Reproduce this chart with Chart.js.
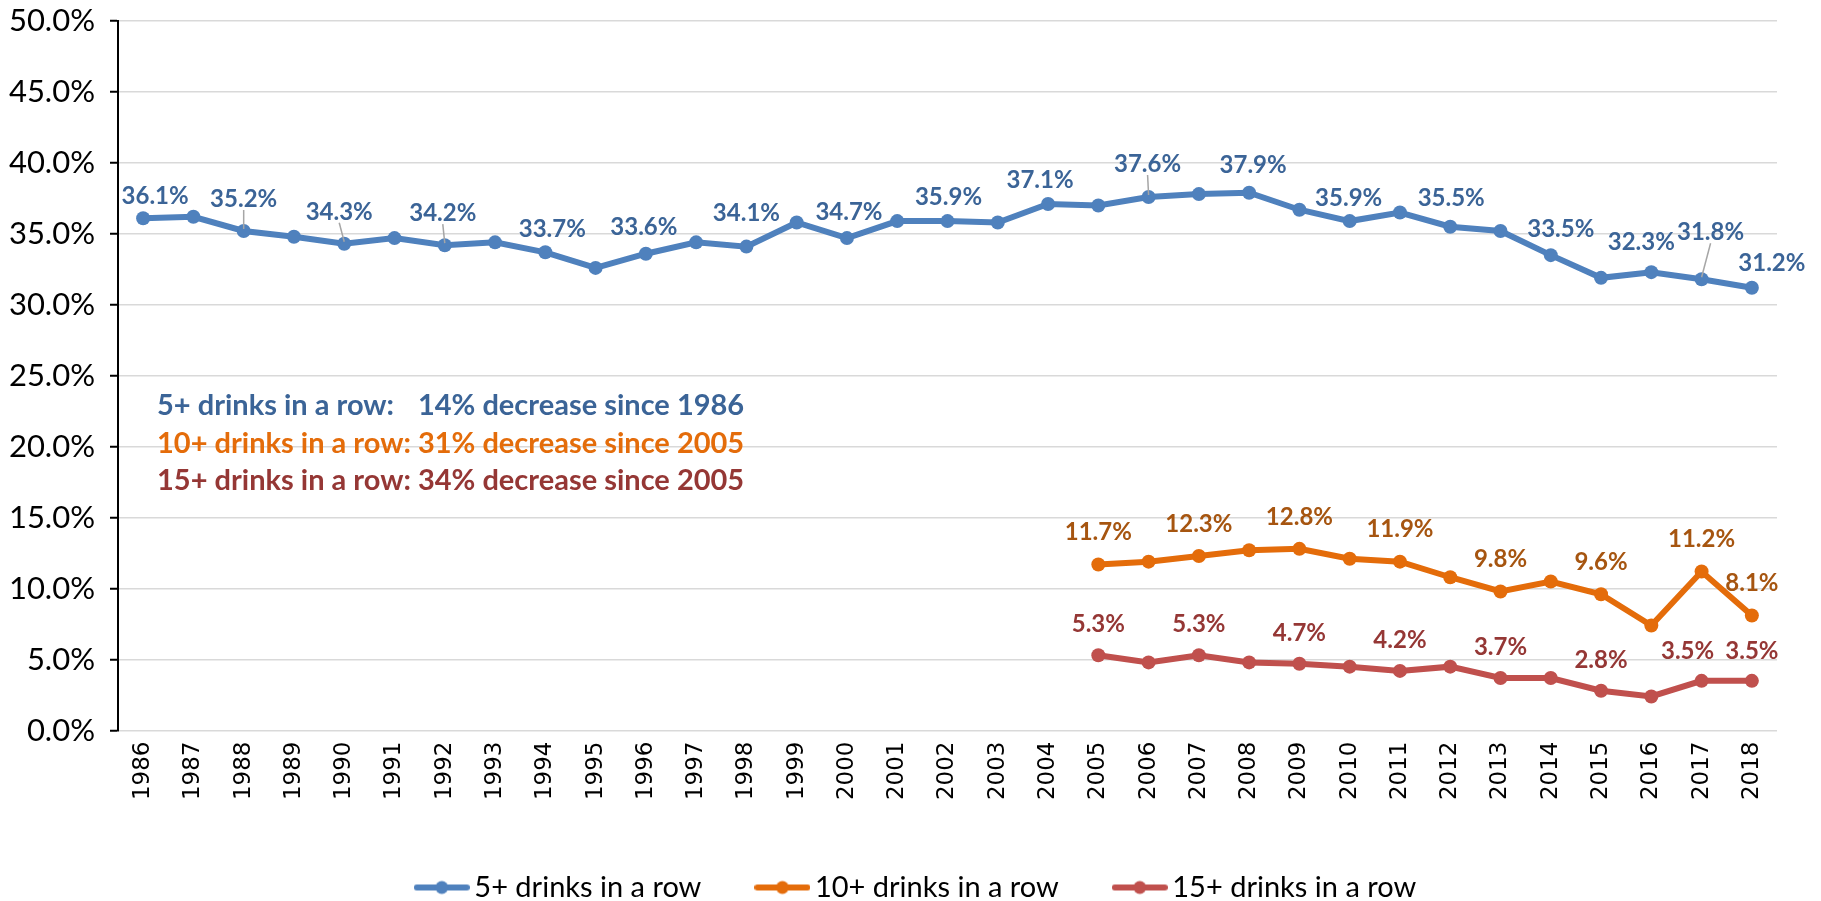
<!DOCTYPE html>
<html><head><meta charset="utf-8">
<script src="https://cdn.jsdelivr.net/npm/chart.js@4.4.1/dist/chart.umd.min.js"></script>
<style>html,body{margin:0;padding:0;background:#fff;overflow:hidden}canvas{display:block}</style>
</head><body>
<canvas id="c" width="1821" height="901" style="width:1821px;height:901px"></canvas>
<script>
// ---------- data ----------
const years = ['1986','1987','1988','1989','1990','1991','1992','1993','1994','1995','1996','1997','1998','1999','2000','2001','2002','2003','2004','2005','2006','2007','2008','2009','2010','2011','2012','2013','2014','2015','2016','2017','2018'];
const fivePlus = [36.1,36.2,35.2,34.8,34.3,34.7,34.2,34.4,33.7,32.6,33.6,34.4,34.1,35.8,34.7,35.9,35.9,35.8,37.1,37.0,37.6,37.8,37.9,36.7,35.9,36.5,35.5,35.2,33.5,31.9,32.3,31.8,31.2];
const laterStartYear = '2005';
const tenPlus = [11.7,11.9,12.3,12.7,12.8,12.1,11.9,10.8,9.8,10.5,9.6,7.4,11.2,8.1];
const fifteenPlus = [5.3,4.8,5.3,4.8,4.7,4.5,4.2,4.5,3.7,3.7,2.8,2.4,3.5,3.5];
const yTicks = [0,5,10,15,20,25,30,35,40,45,50];
const seriesNames = ['5+ drinks in a row','10+ drinks in a row','15+ drinks in a row'];
const fiveLabelYears = ['1986','1988','1990','1992','1994','1996','1998','2000','2002','2004','2006','2008','2010','2012','2014','2016','2017','2018'];
const tenLabelYears = ['2005','2007','2009','2011','2013','2015','2017','2018'];
const fifteenLabelYears = ['2005','2007','2009','2011','2013','2015','2017','2018'];
const noteLeft = ['5+ drinks in a row:','10+ drinks in a row:','15+ drinks in a row:'];
const noteRight = ['14% decrease since 1986','31% decrease since 2005','34% decrease since 2005'];

// ---------- styling / layout ----------
const lineColors = ['#4F81BD','#E46C0A','#C0504D'];
const labelColors = ['#3B6497','#A65510','#953735'];
const noteColors = ['#3B6497','#E46C0A','#953735'];
const FONT = 'Lato';
const labelPlacement = [
  {def:{dx:0,dy:-28}, o:{'1986':{dx:12,dy:-22},'1988':{dx:0,dy:-32,lead:1},'1990':{dx:-5,dy:-32,lead:1},'1992':{dx:-2,dy:-32,lead:1},'1994':{dx:7,dy:-23},'1996':{dx:-2,dy:-26},'1998':{dx:0,dy:-33},'2000':{dx:2,dy:-26},'2002':{dx:1,dy:-24},'2004':{dx:-8,dy:-24},'2006':{dx:-1,dy:-33,lead:1},'2008':{dx:4,dy:-27},'2010':{dx:-1,dy:-23},'2012':{dx:1,dy:-28},'2014':{dx:10,dy:-26},'2016':{dx:-10,dy:-30},'2017':{dx:9,dy:-47,lead:1},'2018':{dx:20,dy:-25}}},
  {def:{dx:0,dy:-32}, o:{}},
  {def:{dx:0,dy:-31}, o:{'2017':{dx:-14,dy:-30},'2018':{dx:0,dy:-30}}}
];

const startIdx = years.indexOf(laterStartYear);
const pad = arr => years.map((y,i) => i >= startIdx ? arr[i - startIdx] : null);
const seriesData = [fivePlus, pad(tenPlus), pad(fifteenPlus)];
const labelYears = [fiveLabelYears, tenLabelYears, fifteenLabelYears];

function legendIcon(color){
  const c = document.createElement('canvas');
  c.width = 56; c.height = 16;
  const g = c.getContext('2d');
  g.strokeStyle = color; g.lineWidth = 6; g.lineCap = 'round';
  g.beginPath(); g.moveTo(3,8); g.lineTo(53,8); g.stroke();
  g.fillStyle = color; g.beginPath(); g.arc(28,8,6.5,0,Math.PI*2); g.fill();
  return c;
}
const icons = lineColors.map(legendIcon);

const dataLabels = {
  id:'dataLabels',
  afterDatasetsDraw(chart){
    const ctx = chart.ctx;
    ctx.save();
    ctx.font = 'bold 24px ' + FONT;
    ctx.textAlign = 'center'; ctx.textBaseline = 'middle';
    labelYears.forEach((ys, s) => {
      const meta = chart.getDatasetMeta(s);
      ys.forEach(y => {
        const i = years.indexOf(y);
        const v = seriesData[s][i];
        const pt = meta.data[i];
        if (v == null || !pt) return;
        const p = labelPlacement[s].o[y] || labelPlacement[s].def;
        const lx = pt.x + p.dx, ly = pt.y + p.dy;
        if (p.lead){
          ctx.strokeStyle = '#A6A6A6'; ctx.lineWidth = 1.5;
          ctx.beginPath(); ctx.moveTo(lx, ly + 11); ctx.lineTo(pt.x, pt.y - 2); ctx.stroke();
        }
        ctx.fillStyle = labelColors[s];
        ctx.fillText(v.toFixed(1) + '%', lx, ly);
      });
    });
    ctx.restore();
  }
};

const notesPlugin = {
  id:'notes',
  afterDraw(chart){
    const ctx = chart.ctx, a = chart.chartArea;
    ctx.save();
    ctx.font = 'bold 29px ' + FONT;
    ctx.textAlign = 'left'; ctx.textBaseline = 'middle';
    const x0 = a.left + 39;
    const x1 = x0 + ctx.measureText(noteLeft[1] + ' ').width;
    noteLeft.forEach((t, k) => {
      const y = a.top + 385 + k * 37.5;
      ctx.fillStyle = noteColors[k];
      ctx.fillText(t, x0, y);
      ctx.fillText(noteRight[k], x1, y);
    });
    ctx.restore();
  }
};

const legendShift = {
  id:'legendShift',
  afterLayout(chart){
    const lg = chart.legend;
    if (lg){ lg.top += 11; lg.bottom += 11; lg.left += 31.5; lg.right += 31.5; }
  }
};

new Chart(document.getElementById('c'), {
  type:'line',
  data:{
    labels: years,
    datasets: seriesData.map((d, s) => ({
      label: seriesNames[s], data: d,
      borderColor: lineColors[s], backgroundColor: lineColors[s],
      pointBackgroundColor: lineColors[s], pointBorderColor: lineColors[s],
      borderWidth: 6, pointRadius: 7, pointBorderWidth: 0, tension: 0, spanGaps: false
    }))
  },
  options:{
    responsive:false, animation:false, devicePixelRatio:1,
    layout:{padding:{top:21, right:44, left:0, bottom:0}},
    plugins:{
      tooltip:{enabled:false},
      legend:{
        position:'bottom',
        labels:{
          usePointStyle:true, pointStyleWidth:36, padding:63,
          color:'#000', font:{family:FONT, size:29},
          generateLabels(chart){
            const items = Chart.defaults.plugins.legend.labels.generateLabels(chart);
            items.forEach((it, i) => { it.pointStyle = icons[i]; });
            return items;
          }
        }
      }
    },
    scales:{
      x:{
        offset:true,
        grid:{display:false, drawTicks:false},
        border:{display:false},
        ticks:{autoSkip:false, minRotation:90, maxRotation:90, padding:11, color:'#000', font:{family:'DejaVu Sans', size:23}},
        afterFit(scale){ scale.height = 68.5; scale.paddingLeft = 0; scale.paddingRight = 0; }
      },
      y:{
        min:0, max:50,
        afterBuildTicks(scale){ scale.ticks = yTicks.map(v => ({value:v})); },
        grid:{color:'#D9D9D9', lineWidth:1.5, tickColor:'#000', tickLength:8, tickWidth:2},
        border:{display:true, color:'#000', width:2},
        ticks:{padding:15, color:'#000', font:{family:FONT, size:31}, callback:v => Number(v).toFixed(1) + '%'},
        afterFit(scale){ scale.width = 118; scale.paddingTop = 0; scale.paddingBottom = 0; }
      }
    }
  },
  plugins:[dataLabels, notesPlugin, legendShift]
});
</script>
</body></html>
